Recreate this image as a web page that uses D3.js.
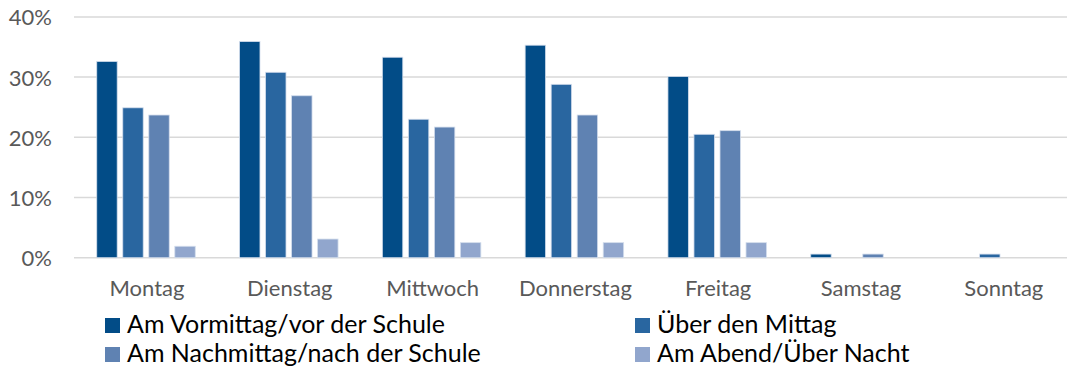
<!DOCTYPE html>
<html>
<head>
<meta charset="utf-8">
<script src="https://cdn.jsdelivr.net/npm/d3@7/dist/d3.min.js"></script>
<style>
  html, body { margin: 0; padding: 0; background: #fff; }
  svg { display: block; font-family: Lato, "Open Sans", sans-serif; }
</style>
</head>
<body>
<svg id="chart" width="1067" height="369"></svg>
<script>
// Weekdays shown along the x axis
const days = ["Montag", "Dienstag", "Mittwoch", "Donnerstag", "Freitag", "Samstag", "Sonntag"];

// Time-of-day series (share in %)
const seriesNames = [
  "Am Vormittag/vor der Schule",
  "Über den Mittag",
  "Am Nachmittag/nach der Schule",
  "Am Abend/Über Nacht"
];
const vormittag  = [32.6, 35.9, 33.3, 35.3, 30.1, 0.6, 0.0];
const mittag     = [24.9, 30.8, 23.0, 28.8, 20.5, 0.0, 0.6];
const nachmittag = [23.7, 26.9, 21.7, 23.7, 21.1, 0.6, 0.0];
const abend      = [1.9, 3.1, 2.5, 2.5, 2.5, 0.0, 0.0];
const seriesValues = [vormittag, mittag, nachmittag, abend];

const yTicks = [0, 10, 20, 30, 40];
const colors = ["#024c87", "#2966a0", "#5f82b2", "#91a6cd"];

const svg = d3.select("#chart");
const W = 1067;

const x0 = d3.scaleBand().domain(days).range([74.6, 1074.2]).paddingInner(0).paddingOuter(0);
const groupW = 98.5;
const x1 = d3.scaleBand().domain(d3.range(seriesNames.length)).range([0, groupW]).paddingInner(0.215).paddingOuter(0);
const y = d3.scaleLinear().domain([0, 40]).range([257.7, 16.9]);

// Horizontal gridlines
svg.append("g").selectAll("line").data(yTicks).join("line")
  .attr("x1", 74).attr("x2", W)
  .attr("y1", d => y(d)).attr("y2", d => y(d))
  .attr("stroke", "#d9d9d9").attr("stroke-width", 1.5);

// Y axis labels
const yAxis = d3.axisLeft(y).tickValues(yTicks).tickSize(0).tickPadding(0).tickFormat(d => d + "%");
svg.append("g").attr("transform", "translate(52,0)").call(yAxis)
  .call(g => g.select(".domain").remove())
  .selectAll("text")
  .attr("font-family", "Lato, 'Open Sans', sans-serif")
  .attr("font-size", 22).attr("fill", "#595959").attr("dy", "0.36em");

// Bars
const groups = svg.append("g").selectAll("g").data(days).join("g")
  .attr("transform", d => `translate(${x0(d) + (x0.bandwidth() - groupW) / 2},0)`);
groups.selectAll("rect")
  .data((d, i) => seriesValues.map((vals, s) => ({ s, v: vals[i] })))
  .join("rect")
  .filter(d => d.v > 0)
  .attr("x", d => x1(d.s))
  .attr("width", x1.bandwidth())
  .attr("y", d => y(d.v))
  .attr("height", d => y(0) - y(d.v))
  .attr("fill", d => colors[d.s])
  .attr("stroke", "#d3ddec").attr("stroke-width", 0.8);

// Category labels
const xAxis = d3.axisBottom(x0).tickSize(0).tickPadding(0);
svg.append("g").attr("transform", "translate(0,296)").call(xAxis)
  .call(g => g.select(".domain").remove())
  .selectAll("text")
  .attr("font-family", "Lato, 'Open Sans', sans-serif")
  .attr("font-size", 22).attr("fill", "#595959").attr("dy", 0)
  .attr("transform", "translate(1,0)");

// Legend (two columns, two rows)
const legendPos = [
  { x: 105, y: 318 }, { x: 635, y: 318 },
  { x: 105, y: 347 }, { x: 635, y: 347 }
];
const legend = svg.append("g").selectAll("g").data(seriesNames).join("g")
  .attr("transform", (d, i) => `translate(${legendPos[i].x},${legendPos[i].y})`);
legend.append("rect").attr("width", 15).attr("height", 15)
  .attr("fill", (d, i) => colors[i]);
legend.append("text").attr("x", 22).attr("y", 15)
  .attr("font-size", 25).attr("fill", "#000")
  .text(d => d);
</script>
</body>
</html>
